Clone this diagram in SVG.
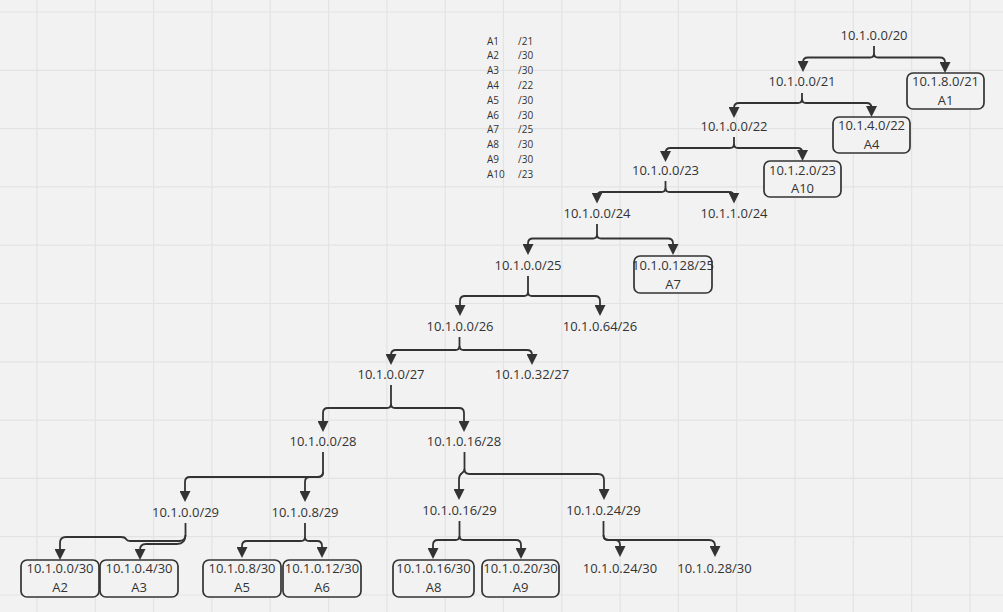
<svg xmlns="http://www.w3.org/2000/svg" width="1003" height="612" viewBox="0 0 1003 612">
<style>
.bg{fill:#f2f2f2}
.grid line{stroke:#e3e3e3;stroke-width:1.2}
text{font-family:"Open Sans","DejaVu Sans",sans-serif;fill:#333;}
.t{font-size:13px;text-anchor:middle}
.lg{font-size:10px}
.box{fill:#f2f2f2;stroke:#333;stroke-width:1.7}
.c path{fill:none;stroke:#333;stroke-width:1.8;marker-end:url(#arr)}
</style>
<defs>
<marker id="arr" viewBox="0 0 10 10" refX="5" refY="5" markerWidth="11" markerHeight="11" markerUnits="userSpaceOnUse" orient="auto">
<path d="M0,0 L10,5 L0,10 Z" fill="#333"/>
</marker>
</defs>
<rect class="bg" x="0" y="0" width="1003" height="612"/>
<g class="grid">
<line x1="37" y1="0" x2="37" y2="612"/>
<line x1="95.3" y1="0" x2="95.3" y2="612"/>
<line x1="153.6" y1="0" x2="153.6" y2="612"/>
<line x1="211.9" y1="0" x2="211.9" y2="612"/>
<line x1="270.2" y1="0" x2="270.2" y2="612"/>
<line x1="328.6" y1="0" x2="328.6" y2="612"/>
<line x1="386.9" y1="0" x2="386.9" y2="612"/>
<line x1="445.2" y1="0" x2="445.2" y2="612"/>
<line x1="503.5" y1="0" x2="503.5" y2="612"/>
<line x1="561.8" y1="0" x2="561.8" y2="612"/>
<line x1="620.1" y1="0" x2="620.1" y2="612"/>
<line x1="678.4" y1="0" x2="678.4" y2="612"/>
<line x1="736.7" y1="0" x2="736.7" y2="612"/>
<line x1="795" y1="0" x2="795" y2="612"/>
<line x1="853.3" y1="0" x2="853.3" y2="612"/>
<line x1="911.7" y1="0" x2="911.7" y2="612"/>
<line x1="970" y1="0" x2="970" y2="612"/>
<line x1="0" y1="12" x2="1003" y2="12"/>
<line x1="0" y1="70.3" x2="1003" y2="70.3"/>
<line x1="0" y1="128.6" x2="1003" y2="128.6"/>
<line x1="0" y1="186.9" x2="1003" y2="186.9"/>
<line x1="0" y1="245.2" x2="1003" y2="245.2"/>
<line x1="0" y1="303.5" x2="1003" y2="303.5"/>
<line x1="0" y1="361.8" x2="1003" y2="361.8"/>
<line x1="0" y1="420.1" x2="1003" y2="420.1"/>
<line x1="0" y1="478.4" x2="1003" y2="478.4"/>
<line x1="0" y1="536.7" x2="1003" y2="536.7"/>
<line x1="0" y1="595" x2="1003" y2="595"/>
</g>
<g id="legend" class="lg">
<text x="487" y="44.5">A1</text><text x="518" y="44.5">/21</text>
<text x="487" y="59.3">A2</text><text x="518" y="59.3">/30</text>
<text x="487" y="74.1">A3</text><text x="518" y="74.1">/30</text>
<text x="487" y="88.9">A4</text><text x="518" y="88.9">/22</text>
<text x="487" y="103.7">A5</text><text x="518" y="103.7">/30</text>
<text x="487" y="118.5">A6</text><text x="518" y="118.5">/30</text>
<text x="487" y="133.3">A7</text><text x="518" y="133.3">/25</text>
<text x="487" y="148.1">A8</text><text x="518" y="148.1">/30</text>
<text x="487" y="162.9">A9</text><text x="518" y="162.9">/30</text>
<text x="487" y="177.7">A10</text><text x="518" y="177.7">/23</text>
</g>
<g id="connectors" class="c">
<path d="M874,46 V53.5 Q874,57.5 870,57.5 H808 Q803,57.5 803,62.5 V66.5"/>
<path d="M874,53.5 Q874,57.5 878,57.5 H940 Q945,57.5 945,62.5 V67.5"/>
<path d="M802,93 V99 Q802,103 798,103 H739 Q734,103 734,108 V112.5"/>
<path d="M802,99 Q802,103 806,103 H866.5 Q871.5,103 871.5,108 V111.5"/>
<path d="M734,137 V144 Q734,148 730,148 H670.5 Q665.5,148 665.5,153 V156.5"/>
<path d="M734,144 Q734,148 738,148 H797.5 Q802.5,148 802.5,153 V155.5"/>
<path d="M665.5,181 V188 Q665.5,192 661.5,192 H602 Q597,192 597,197 V198"/>
<path d="M665.5,188 Q665.5,192 669.5,192 H729 Q734,192 734,197 V198"/>
<path d="M597,224 V234.5 Q597,238.5 593,238.5 H533 Q528,238.5 528,243.5 V249.5"/>
<path d="M597,234.5 Q597,238.5 601,238.5 H668 Q673,238.5 673,243.5 V249.5"/>
<path d="M528,276 V292 Q528,296 524,296 H465 Q460,296 460,301 V310.5"/>
<path d="M528,292 Q528,296 532,296 H595 Q600,296 600,301 V310.5"/>
<path d="M459.5,337 V346 Q459.5,350 455.5,350 H396 Q391,350 391,355 V359.5"/>
<path d="M459.5,346 Q459.5,350 463.5,350 H527 Q532,350 532,355 V359.5"/>
<path d="M391,385 V404 Q391,408 387,408 H328 Q323,408 323,413 V426.5"/>
<path d="M391,404 Q391,408 395,408 H459 Q464,408 464,413 V426.5"/>
<path d="M323,452 V472 Q323,477 318,477 H190 Q185,477 185,482 V496.5"/>
<path d="M323,472 Q323,477 318,477 H310 Q305,477 305,482 V496.5"/>
<path d="M464.5,452 V469 C464.5,474 459,472 459,479 V494.5"/>
<path d="M464.5,469 Q464.5,474 469.5,474 H598 Q604,474 604,480 V494.5"/>
<path d="M185.5,523 V535 Q185.5,541 179,541 H130 Q127,541 126,539 Q125,537 121,537 H66 Q60,537 60,543 V554.5"/>
<path d="M185.5,535 Q185.5,544 177,544 H146 Q140,544 140,550 V554.5"/>
<path d="M305,523 V537 Q305,541 301,541 H247 Q242,541 242,546 V552.5"/>
<path d="M305,537 Q305,541 309,541 H317 Q322,541 322,546 V552.5"/>
<path d="M459.5,521 V536 Q459.5,540 455.5,540 H438 Q433,540 433,545 V553.5"/>
<path d="M459.5,536 Q459.5,540 463.5,540 H516 Q521,540 521,545 V553.5"/>
<path d="M603.5,521 V535 Q603.5,540 608.5,540 H615 Q620,540 620,545 V551.5"/>
<path d="M603.5,535 Q603.5,540 608.5,540 H709 Q715,540 715,546 V551.5"/>
</g>
<g id="n20"><text class="t" x="874" y="39.5">10.1.0.0/20</text></g>
<g id="n0_21"><text class="t" x="802" y="86">10.1.0.0/21</text></g>
<g id="n8_21"><rect class="box" x="907" y="73" width="77" height="36" rx="6"/><text class="t" x="945.5" y="86">10.1.8.0/21</text><text class="t" x="945.5" y="104.5">A1</text></g>
<g id="n0_22"><text class="t" x="734" y="131">10.1.0.0/22</text></g>
<g id="n4_22"><rect class="box" x="833" y="117" width="77" height="36" rx="6"/><text class="t" x="871.5" y="130">10.1.4.0/22</text><text class="t" x="871.5" y="149">A4</text></g>
<g id="n0_23"><text class="t" x="665.5" y="175">10.1.0.0/23</text></g>
<g id="n2_23"><rect class="box" x="764" y="161" width="77" height="36" rx="6"/><text class="t" x="802.5" y="175">10.1.2.0/23</text><text class="t" x="802.5" y="193">A10</text></g>
<g id="n0_24"><text class="t" x="597" y="218">10.1.0.0/24</text></g>
<g id="n1_24"><text class="t" x="734" y="218">10.1.1.0/24</text></g>
<g id="n0_25"><text class="t" x="528" y="270">10.1.0.0/25</text></g>
<g id="n128_25"><rect class="box" x="634" y="256" width="78" height="37" rx="6"/><text class="t" x="673" y="270">10.1.0.128/25</text><text class="t" x="673" y="288.5">A7</text></g>
<g id="n0_26"><text class="t" x="460" y="331">10.1.0.0/26</text></g>
<g id="n64_26"><text class="t" x="600" y="331">10.1.0.64/26</text></g>
<g id="n0_27"><text class="t" x="391" y="379">10.1.0.0/27</text></g>
<g id="n32_27"><text class="t" x="532" y="379">10.1.0.32/27</text></g>
<g id="n0_28"><text class="t" x="323" y="446">10.1.0.0/28</text></g>
<g id="n16_28"><text class="t" x="464" y="446">10.1.0.16/28</text></g>
<g id="n0_29"><text class="t" x="185.5" y="517">10.1.0.0/29</text></g>
<g id="n8_29"><text class="t" x="305" y="517">10.1.0.8/29</text></g>
<g id="n16_29"><text class="t" x="459.5" y="515">10.1.0.16/29</text></g>
<g id="n24_29"><text class="t" x="603.5" y="515">10.1.0.24/29</text></g>
<g id="n0_30"><rect class="box" x="21" y="560" width="78" height="37" rx="6"/><text class="t" x="60" y="573">10.1.0.0/30</text><text class="t" x="60" y="592">A2</text></g>
<g id="n4_30"><rect class="box" x="100" y="560" width="78" height="37" rx="6"/><text class="t" x="139" y="573">10.1.0.4/30</text><text class="t" x="139" y="592">A3</text></g>
<g id="n8_30"><rect class="box" x="203" y="560" width="78" height="37" rx="6"/><text class="t" x="242" y="573">10.1.0.8/30</text><text class="t" x="242" y="592">A5</text></g>
<g id="n12_30"><rect class="box" x="283" y="560" width="78" height="37" rx="6"/><text class="t" x="322" y="573">10.1.0.12/30</text><text class="t" x="322" y="592">A6</text></g>
<g id="n16_30"><rect class="box" x="393" y="560" width="81" height="37" rx="6"/><text class="t" x="433.5" y="573">10.1.0.16/30</text><text class="t" x="433.5" y="592">A8</text></g>
<g id="n20_30"><rect class="box" x="482" y="560" width="77" height="37" rx="6"/><text class="t" x="520.5" y="573">10.1.0.20/30</text><text class="t" x="520.5" y="592">A9</text></g>
<g id="n24_30"><text class="t" x="620" y="573">10.1.0.24/30</text></g>
<g id="n28_30"><text class="t" x="714.5" y="573">10.1.0.28/30</text></g>
</svg>
